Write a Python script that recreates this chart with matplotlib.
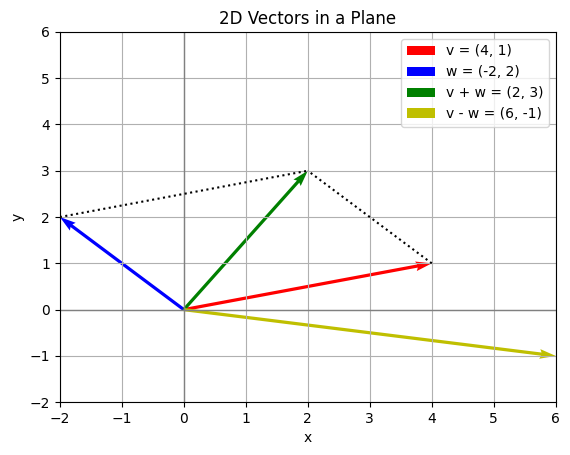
import matplotlib
matplotlib.use("Agg")
import matplotlib.pyplot as plt

labels = ["v = (4, 1)", "w = (-2, 2)", "v + w = (2, 3)", "v - w = (6, -1)"]
vx = [4, -2, 2, 6]
vy = [1, 2, 3, -1]
colors = ["r", "b", "g", "y"]

fig, ax = plt.subplots(figsize=(5.7, 4.55), dpi=100)
fig.subplots_adjust(left=0.105, right=0.975, top=0.93, bottom=0.116)
ax.axhline(0, color="gray", linewidth=1)
ax.axvline(0, color="gray", linewidth=1)
for x, y, c, l in zip(vx, vy, colors, labels):
    ax.quiver(0, 0, x, y, angles="xy", scale_units="xy", scale=1, color=c, label=l, width=0.0065)
ax.plot([vx[1], vx[2]], [vy[1], vy[2]], "k:")
ax.plot([vx[0], vx[2]], [vy[0], vy[2]], "k:")
ax.set_xlim(-2, 6)
ax.set_ylim(-2, 6)
ax.set_xlabel("x")
ax.set_ylabel("y")
ax.set_title("2D Vectors in a Plane")
ax.grid(True)
ax.legend(loc="upper right")
fig.savefig("out.png")
